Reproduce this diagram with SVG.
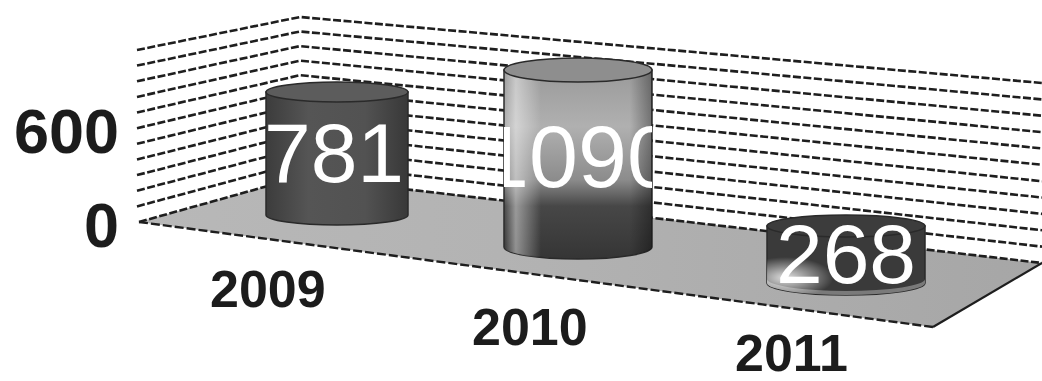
<svg xmlns="http://www.w3.org/2000/svg" width="1042" height="381" viewBox="0 0 1042 381">
  <style>
    .grid { fill: none; stroke: #1e1e1e; stroke-width: 2.6; stroke-dasharray: 8 2.5; }
    .axis { font-family: "Liberation Sans", Arial, sans-serif; font-weight: bold; fill: #1c1c1c; }
    .val { font-family: "Liberation Sans", Arial, sans-serif; fill: #ffffff; }
    .rim { stroke: #2a2a2a; stroke-width: 1.5; }
  </style>
  <defs>
    <linearGradient id="floorG" x1="0" y1="0" x2="1" y2="0">
      <stop offset="0" stop-color="#b8b8b8"/>
      <stop offset="0.4" stop-color="#b3b3b3"/>
      <stop offset="1" stop-color="#a6a6a6"/>
    </linearGradient>
    <linearGradient id="c1Body" x1="0" y1="0" x2="1" y2="0">
      <stop offset="0" stop-color="#3c3c3c"/>
      <stop offset="0.3" stop-color="#555555"/>
      <stop offset="0.7" stop-color="#525252"/>
      <stop offset="1" stop-color="#383838"/>
    </linearGradient>
    <linearGradient id="c2Body" x1="0" y1="0" x2="0" y2="1">
      <stop offset="0" stop-color="#9a9a9a"/>
      <stop offset="0.3" stop-color="#b0b0b0"/>
      <stop offset="0.58" stop-color="#8c8c8c"/>
      <stop offset="0.72" stop-color="#474747"/>
      <stop offset="1" stop-color="#353535"/>
    </linearGradient>
    <linearGradient id="c2Shade" x1="0" y1="0" x2="1" y2="0">
      <stop offset="0" stop-color="#ffffff" stop-opacity="0"/>
      <stop offset="0.08" stop-color="#ffffff" stop-opacity="0.45"/>
      <stop offset="0.25" stop-color="#ffffff" stop-opacity="0"/>
      <stop offset="0.85" stop-color="#000000" stop-opacity="0"/>
      <stop offset="1" stop-color="#000000" stop-opacity="0.35"/>
    </linearGradient>
    <radialGradient id="c3Glare" cx="0.12" cy="0.75" r="0.3">
      <stop offset="0" stop-color="#ffffff" stop-opacity="0.85"/>
      <stop offset="1" stop-color="#ffffff" stop-opacity="0"/>
    </radialGradient>
    <clipPath id="c2Clip">
      <path d="M504,70 L504,247 A74,12 0 0 0 652,247 L652,70 A74,12 0 0 0 504,70 Z"/>
    </clipPath>
  </defs>

  <rect width="1042" height="381" fill="#ffffff"/>

  <g id="walls">
    <polyline class="grid" points="137,50 300,17 1042,83"/>
    <polyline class="grid" points="137,65.6 300,31.5 1042,99.4"/>
    <polyline class="grid" points="137,81.3 300,46.1 1042,115.7"/>
    <polyline class="grid" points="137,96.9 300,60.6 1042,132.1"/>
    <polyline class="grid" points="137,112.5 300,75.2 1042,148.4"/>
    <polyline class="grid" points="137,128.2 300,89.7 1042,164.8"/>
    <polyline class="grid" points="137,143.8 300,104.3 1042,181.2"/>
    <polyline class="grid" points="137,159.5 300,118.9 1042,197.5"/>
    <polyline class="grid" points="137,175.1 300,133.4 1042,213.9"/>
    <polyline class="grid" points="137,190.7 300,147.9 1042,230.2"/>
    <polyline class="grid" points="137,206.4 300,162.5 1042,246.6"/>
  </g>

  <g id="floor">
    <polygon points="139,222 300,177 1042,263 933,327" fill="url(#floorG)"/>
    <polyline class="grid" points="139,222 300,177 1042,263"/>
    <line x1="139" y1="222" x2="933" y2="327" stroke="#1e1e1e" stroke-width="2.4" stroke-dasharray="9 3"/>
    <line x1="933" y1="327" x2="1042" y2="263" stroke="#1e1e1e" stroke-width="2.2"/>
  </g>

  <g id="bar-2009">
    <path class="rim" d="M266,92 L266,215 A71,10 0 0 0 408,215 L408,92 Z" fill="url(#c1Body)"/>
    <ellipse class="rim" cx="337" cy="92" rx="71" ry="10" fill="#5c5c5c"/>
    <text class="val" x="334" y="182" font-size="84" text-anchor="middle">781</text>
  </g>

  <g id="bar-2010">
    <path class="rim" d="M504,70 L504,247 A74,12 0 0 0 652,247 L652,70 Z" fill="url(#c2Body)"/>
    <path d="M504,70 L504,247 A74,12 0 0 0 652,247 L652,70 Z" fill="url(#c2Shade)"/>
    <ellipse class="rim" cx="578" cy="70" rx="74" ry="12" fill="#8e8e8e"/>
    <g clip-path="url(#c2Clip)">
      <text class="val" x="578" y="187" font-size="88" text-anchor="middle">1090</text>
    </g>
  </g>

  <g id="bar-2011">
    <path class="rim" d="M767,226 L767,283 A79,12 0 0 0 925,283 L925,226 Z" fill="#3a3a3a"/>
    <path d="M767,279 L767,283 A79,12 0 0 0 925,283 L925,279 A79,12 0 0 1 767,279 Z" fill="#7a7a7a"/>
    <path d="M767,226 L767,283 A79,12 0 0 0 925,283 L925,226 Z" fill="url(#c3Glare)"/>
    <ellipse cx="846" cy="226" rx="79" ry="11" fill="#3c3c3c" stroke="#2a2a2a" stroke-width="1.5"/>
    <text class="val" x="846" y="283" font-size="84" text-anchor="middle">268</text>
  </g>

  <g id="labels">
    <text class="axis" x="119" y="153" font-size="63" text-anchor="end">600</text>
    <text class="axis" x="119" y="247" font-size="63" text-anchor="end">0</text>
    <text class="axis" x="210" y="307" font-size="52">2009</text>
    <text class="axis" x="472" y="345" font-size="52">2010</text>
    <text class="axis" x="735" y="371" font-size="52">2011</text>
  </g>
</svg>
